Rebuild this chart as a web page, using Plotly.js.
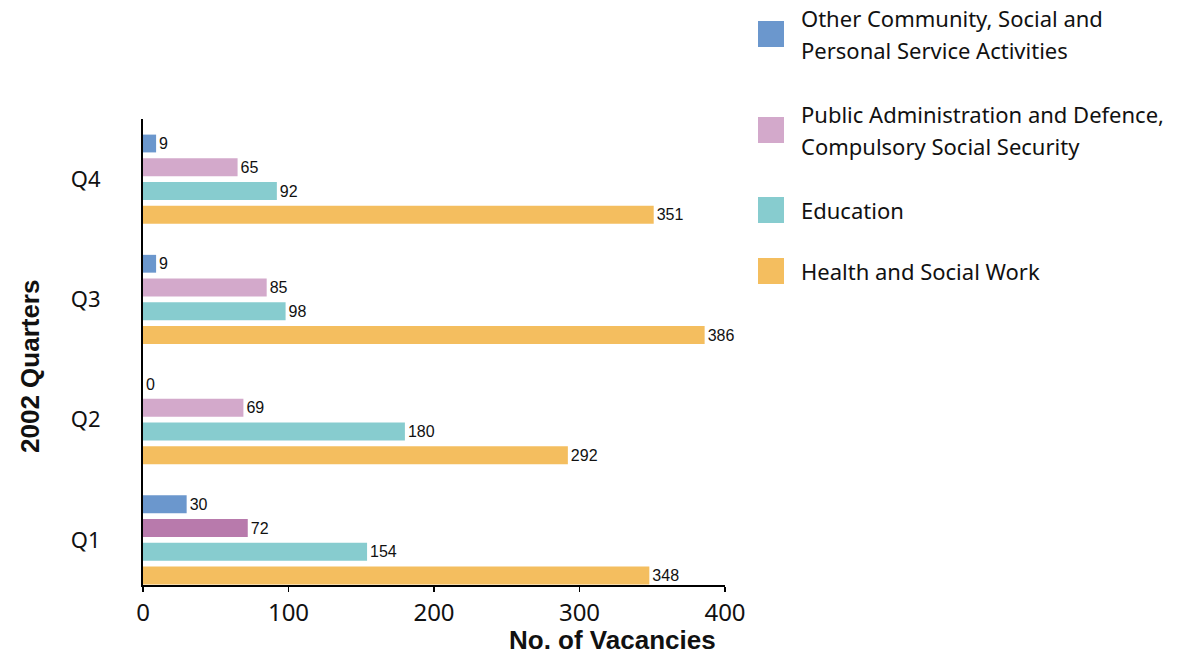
<!DOCTYPE html>
<html>
<head>
<meta charset="utf-8">
<script src="https://cdn.plot.ly/plotly-3.0.1.min.js"></script>
<style>html,body{margin:0;padding:0;background:#fff;}#chart{width:1183px;height:658px;}</style>
</head>
<body>
<div id="chart"></div>
<script>
// ---- data ----
var quarters = ['Q1', 'Q2', 'Q3', 'Q4'];
var seriesNames = [
  'Other Community, Social and<br>Personal Service Activities',
  'Public Administration and Defence,<br>Compulsory Social Security',
  'Education',
  'Health and Social Work'
];
var otherCommunity = [30, 0, 9, 9];
var publicAdmin = [72, 69, 85, 65];
var education = [154, 180, 98, 92];
var healthSocial = [348, 292, 386, 351];
var xTicks = [0, 100, 200, 300, 400];

// ---- styles ----
var colors = ['#6b97cd', '#d3a9cb', '#87cccf', '#f4be5f'];
var publicAdminColors = ['#b87aac', '#d3a9cb', '#d3a9cb', '#d3a9cb'];
var seriesValues = [otherCommunity, publicAdmin, education, healthSocial];
var barColors = [colors[0], publicAdminColors, colors[2], colors[3]];

var W = 1183, H = 658;
var M = {l: 143, r: 458, t: 119, b: 73};
var plotW = W - M.l - M.r, plotH = H - M.t - M.b;
function px(x) { return (x - M.l) / plotW; }
function py(y) { return (H - M.b - y) / plotH; }

var labelFont = {family: 'Liberation Sans, Arial, sans-serif', size: 16, color: '#111'};

// draw bottom-first so that "Other" sits at the top of each group
var traces = [];
for (var i = seriesValues.length - 1; i >= 0; i--) {
  traces.push({
    type: 'bar',
    orientation: 'h',
    name: seriesNames[i],
    y: quarters,
    x: seriesValues[i],
    text: seriesValues[i].map(String),
    textposition: 'outside',
    textfont: labelFont,
    cliponaxis: false,
    marker: {color: barColors[i], line: {width: 0}},
    showlegend: false,
    hoverinfo: 'x+y'
  });
}

// custom legend
var legendY = [34, 130, 210, 271];
var lineGap = 32;
var shapes = [], annotations = [];
for (var j = 0; j < seriesNames.length; j++) {
  shapes.push({
    type: 'rect', xref: 'paper', yref: 'paper',
    x0: px(758), x1: px(784), y0: py(legendY[j] + 13), y1: py(legendY[j] - 13),
    fillcolor: colors[j], line: {width: 0}
  });
  var lines = seriesNames[j].split('<br>');
  for (var k = 0; k < lines.length; k++) {
    var yLine = legendY[j] + (k - (lines.length - 1) / 2) * lineGap;
    annotations.push({
      xref: 'paper', yref: 'paper', x: px(799), y: py(yLine),
      xanchor: 'left', yanchor: 'middle', align: 'left', showarrow: false,
      text: lines[k],
      font: {family: 'Noto Sans, sans-serif', size: 22, color: '#111'}
    });
  }
}
annotations.push({
  xref: 'paper', yref: 'paper', x: px(612), y: py(640),
  xanchor: 'center', yanchor: 'middle', showarrow: false,
  text: '<b>No. of Vacancies</b>',
  font: {family: 'Liberation Sans, Arial, sans-serif', size: 26, color: '#111'}
});
annotations.push({
  xref: 'paper', yref: 'paper', x: px(30), y: py(367),
  xanchor: 'center', yanchor: 'middle', showarrow: false, textangle: -90,
  text: '<b>2002 Quarters</b>',
  font: {family: 'Liberation Sans, Arial, sans-serif', size: 26, color: '#111'}
});

var layout = {
  width: W, height: H,
  margin: M,
  paper_bgcolor: '#fff', plot_bgcolor: '#fff',
  barmode: 'group',
  bargap: 0.21,
  bargroupgap: 0.25,
  showlegend: false,
  xaxis: {
    range: [0, 400],
    tickvals: xTicks,
    ticktext: xTicks.map(String),
    showgrid: false, zeroline: false,
    showline: true, linecolor: '#000', linewidth: 2,
    ticks: 'outside', ticklen: 5, tickwidth: 1.5, tickcolor: '#000',
    tickfont: {family: 'Noto Sans, sans-serif', size: 24, color: '#111'}
  },
  yaxis: {
    type: 'category',
    categoryorder: 'array', categoryarray: quarters,
    range: [-0.375, 3.5],
    showgrid: false, zeroline: false,
    showline: true, linecolor: '#000', linewidth: 2,
    ticks: '', ticklabelstandoff: 36,
    tickfont: {family: 'Noto Sans, sans-serif', size: 22, color: '#111'}
  },
  shapes: shapes,
  annotations: annotations
};

Plotly.newPlot('chart', traces, layout, {displayModeBar: false, staticPlot: true});
</script>
</body>
</html>
